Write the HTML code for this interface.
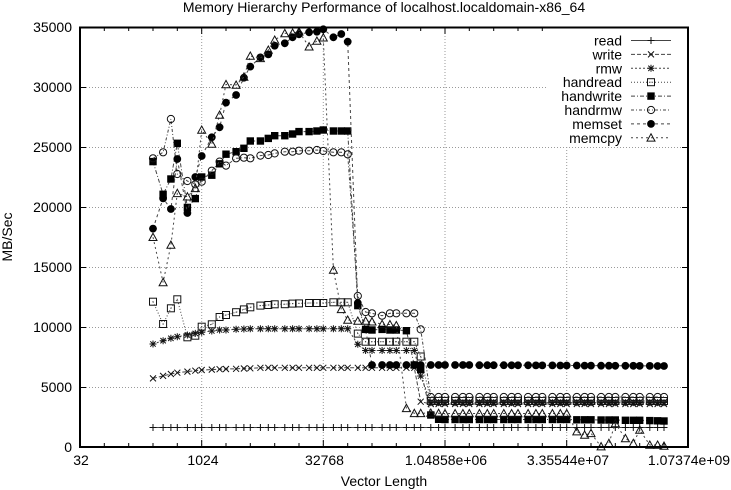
<!DOCTYPE html>
<html><head><meta charset="utf-8"><style>
html,body{margin:0;padding:0;background:#fff;}
svg{display:block;}
text{font-family:"Liberation Sans",Arial,sans-serif;font-size:14px;fill:#000;}
.l{fill:none;stroke:#444;stroke-width:1;}
</style></head><body>
<svg width="731" height="490" viewBox="0 0 731 490" xmlns="http://www.w3.org/2000/svg">
<defs>
<marker id="mp" markerUnits="userSpaceOnUse" markerWidth="12" markerHeight="12" refX="6" refY="6"><path d="M2.5,6H9.5M6,2.5V9.5" stroke="#111" stroke-width="1" fill="none"/></marker>
<marker id="mx" markerUnits="userSpaceOnUse" markerWidth="12" markerHeight="12" refX="6" refY="6"><path d="M3,3L9,9M3,9L9,3" stroke="#111" stroke-width="1" fill="none"/></marker>
<marker id="ms" markerUnits="userSpaceOnUse" markerWidth="12" markerHeight="12" refX="6" refY="6"><path d="M2.5,6H9.5M6,2.5V9.5M3.3,3.3L8.7,8.7M3.3,8.7L8.7,3.3" stroke="#111" stroke-width="1" fill="none"/></marker>
<marker id="mb" markerUnits="userSpaceOnUse" markerWidth="12" markerHeight="12" refX="6" refY="6"><rect x="2.5" y="2.5" width="7" height="7" fill="none" stroke="#111" stroke-width="1"/><rect x="5.5" y="5.5" width="1" height="1" fill="#333"/></marker>
<marker id="mB" markerUnits="userSpaceOnUse" markerWidth="12" markerHeight="12" refX="6" refY="6"><rect x="2.3" y="2.3" width="7.4" height="7.4" fill="#000"/></marker>
<marker id="mo" markerUnits="userSpaceOnUse" markerWidth="12" markerHeight="12" refX="6" refY="6"><circle cx="6" cy="6" r="3.6" fill="none" stroke="#111" stroke-width="1"/></marker>
<marker id="mO" markerUnits="userSpaceOnUse" markerWidth="12" markerHeight="12" refX="6" refY="6"><circle cx="6" cy="6" r="3.9" fill="#000"/></marker>
<marker id="mt" markerUnits="userSpaceOnUse" markerWidth="12" markerHeight="12" refX="6" refY="6"><path d="M6,2L10,9.3H2Z" fill="none" stroke="#111" stroke-width="1"/></marker>
</defs>

<!-- title -->
<text x="384" y="12" text-anchor="middle">Memory Hierarchy Performance of localhost.localdomain-x86_64</text>

<!-- grid -->
<g stroke="#9a9a9a" stroke-width="1" stroke-dasharray="1,2" fill="none">
<path d="M80,87.5H688M80,147.5H688M80,207.5H688M80,267.5H688M80,327.5H688M80,387.5H688"/>
<path d="M201.7,27V447M323.3,27V447M445,27V447M566.7,27V447"/>
</g>

<!-- ticks -->
<g stroke="#000" stroke-width="1" fill="none">
<path d="M201.7,447V440M323.3,447V440M445,447V440M566.7,447V440M201.7,27V34M323.3,27V34M445,27V34M566.7,27V34"/>
<path d="M104.3,447V443M128.7,447V443M153,447V443M177.3,447V443M226,447V443M250.3,447V443M274.7,447V443M299,447V443M347.7,447V443M372,447V443M396.3,447V443M420.7,447V443M469.3,447V443M493.7,447V443M518,447V443M542.3,447V443M591,447V443M615.3,447V443M639.7,447V443M664,447V443"/>
<path d="M104.3,27V31M128.7,27V31M153,27V31M177.3,27V31M226,27V31M250.3,27V31M274.7,27V31M299,27V31M347.7,27V31M372,27V31M396.3,27V31M420.7,27V31M469.3,27V31M493.7,27V31M518,27V31M542.3,27V31M591,27V31M615.3,27V31M639.7,27V31M664,27V31"/>
<path d="M80,87.5H86M80,147.5H86M80,207.5H86M80,267.5H86M80,327.5H86M80,387.5H86M688,87.5H682M688,147.5H682M688,207.5H682M688,267.5H682M688,327.5H682M688,387.5H682"/>
</g>

<!-- tick labels -->
<g text-anchor="end">
<text x="72" y="452">0</text>
<text x="72" y="392">5000</text>
<text x="72" y="332">10000</text>
<text x="72" y="272">15000</text>
<text x="72" y="212">20000</text>
<text x="72" y="152">25000</text>
<text x="72" y="92">30000</text>
<text x="72" y="32">35000</text>
</g>
<g text-anchor="middle">
<text x="81" y="465">32</text>
<text x="203" y="465">1024</text>
<text x="324.5" y="465">32768</text>
<text x="446" y="465">1.04858e+06</text>
<text x="568" y="465">3.35544e+07</text>
<text x="689" y="465">1.07374e+09</text>
<text x="384" y="486">Vector Length</text>
<text transform="translate(12,237) rotate(-90)">MB/Sec</text>
</g>

<!-- series -->
<polyline class="l" marker-start="url(#mp)" marker-mid="url(#mp)" marker-end="url(#mp)" points="153,427.5 163.1,427.5 170.9,427.5 177.3,427.5 187.4,427.5 195.3,427.5 201.7,427.5 211.8,427.5 219.6,427.5 226,427.5 236.1,427.5 243.9,427.5 250.3,427.5 260.4,427.5 268.3,427.5 274.7,427.5 284.8,427.5 292.6,427.5 299,427.5 309.1,427.5 316.9,427.5 323.3,427.5 333.4,427.5 341.3,427.5 347.7,427.5 357.8,427.5 365.6,427.5 372,427.5 382.1,427.5 389.9,427.5 396.3,427.5 406.4,427.5 414.3,427.5 420.7,427.5 430.8,427.5 438.6,427.5 445,427.5 455.1,427.5 462.9,427.5 469.3,427.5 479.4,427.5 487.3,427.5 493.7,427.5 503.8,427.5 511.6,427.5 518,427.5 528.1,427.5 535.9,427.5 542.3,427.5 552.4,427.5 560.3,427.5 566.7,427.5 576.8,427.5 584.6,427.5 591,427.5 601.1,427.5 608.9,427.5 615.3,427.5 625.4,427.5 633.3,427.5 639.7,427.5 649.8,427.5 657.6,427.5 664,427.5"/>

<polyline class="l" stroke-dasharray="4,2" marker-start="url(#mx)" marker-mid="url(#mx)" marker-end="url(#mx)" points="153,378.4 163.1,375.9 170.9,374 177.3,372.7 187.4,371.6 195.3,370.7 201.7,370 211.8,369.6 219.6,369.2 226,369 236.1,368.8 243.9,368.5 250.3,368.3 260.4,367.8 268.3,367.8 274.7,367.8 284.8,367.8 292.6,367.8 299,367.8 309.1,367.8 316.9,367.8 323.3,367.8 333.4,367.8 341.3,367.8 347.7,367.8 357.8,367.8 365.6,367.8 372,367.8 382.1,367.8 389.9,367.8 396.3,367.8 406.4,367.8 414.3,367.8 420.7,401.7 430.8,404 438.6,404 445,404 455.1,404 462.9,404 469.3,404 479.4,404 487.3,404 493.7,404 503.8,404 511.6,404 518,404 528.1,404 535.9,404 542.3,404 552.4,404 560.3,404 566.7,404 576.8,404 584.6,404 591,404 601.1,404 608.9,404 615.3,404 625.4,404 633.3,404 639.7,404 649.8,404 657.6,404 664,404"/>

<polyline class="l" stroke-dasharray="2,2" marker-start="url(#ms)" marker-mid="url(#ms)" marker-end="url(#ms)" points="153,344 163.1,340.7 170.9,338.3 177.3,336.7 187.4,335 195.3,333.4 201.7,332.3 211.8,331 219.6,330 226,330 236.1,329.3 243.9,329 250.3,328.8 260.4,328.8 268.3,328.8 274.7,328.8 284.8,328.8 292.6,328.8 299,328.8 309.1,328.8 316.9,328.8 323.3,328.8 333.4,328.8 341.3,328.8 347.7,328.8 357.8,344.3 365.6,350.5 372,350.5 382.1,350.5 389.9,350.5 396.3,350.5 406.4,350.5 414.3,350.5 420.7,376 430.8,402.6 438.6,402.6 445,402.6 455.1,402.6 462.9,402.6 469.3,402.6 479.4,402.6 487.3,402.6 493.7,402.6 503.8,402.6 511.6,402.6 518,402.6 528.1,402.6 535.9,402.6 542.3,402.6 552.4,402.6 560.3,402.6 566.7,402.6 576.8,402.6 584.6,402.6 591,402.6 601.1,402.6 608.9,402.6 615.3,402.6 625.4,402.6 633.3,402.6 639.7,402.6 649.8,402.6 657.6,402.6 664,402.6"/>

<polyline class="l" stroke-dasharray="1,2" marker-start="url(#mb)" marker-mid="url(#mb)" marker-end="url(#mb)" points="153,301.7 163.1,324 170.9,308.3 177.3,299.3 187.4,337.3 195.3,335.7 201.7,326.7 211.8,324.3 219.6,317 226,315 236.1,312.2 243.9,309.4 250.3,307.3 260.4,305.6 268.3,305 274.7,304.3 284.8,304.2 292.6,303.6 299,303.4 309.1,303 316.9,303 323.3,303 333.4,302.3 341.3,302.3 347.7,302.3 357.8,333.6 365.6,341.7 372,341.7 382.1,341.7 389.9,341.7 396.3,341.7 406.4,341.7 414.3,341.7 420.7,356.5 430.8,401 438.6,401 445,401 455.1,401 462.9,401 469.3,401 479.4,401 487.3,401 493.7,401 503.8,401 511.6,401 518,401 528.1,401 535.9,401 542.3,401 552.4,401 560.3,401 566.7,401 576.8,401 584.6,401 591,401 601.1,401 608.9,401 615.3,401 625.4,401 633.3,401 639.7,401 649.8,401 657.6,401 664,401"/>

<polyline class="l" stroke-dasharray="4,2,1,2" marker-start="url(#mB)" marker-mid="url(#mB)" marker-end="url(#mB)" points="153,161.6 163.1,194.3 170.9,179 177.3,143.3 187.4,207.4 195.3,198.6 201.7,177 211.8,175.2 219.6,163.8 226,154.2 236.1,151.7 243.9,148.3 250.3,141 260.4,141 268.3,138.4 274.7,135.7 284.8,135.7 292.6,134 299,131.6 309.1,131.6 316.9,131 323.3,130 333.4,131 341.3,131 347.7,131 357.8,305.6 365.6,329.4 372,330 382.1,329.4 389.9,330 396.3,330 406.4,330.7 414.3,365 420.7,369.6 430.8,415 438.6,419.3 445,419.5 455.1,419.5 462.9,419.5 469.3,419.5 479.4,419.5 487.3,419.5 493.7,419.5 503.8,419.5 511.6,419.5 518,419.5 528.1,419.5 535.9,419.5 542.3,419.5 552.4,419.5 560.3,419.5 566.7,419.5 576.8,419.8 584.6,419.8 591,419.8 601.1,420 608.9,420 615.3,420 625.4,420.3 633.3,420.3 639.7,420.3 649.8,420.6 657.6,420.8 664,421"/>

<polyline class="l" stroke-dasharray="3,2,1,2" marker-start="url(#mo)" marker-mid="url(#mo)" marker-end="url(#mo)" points="153,158.3 163.1,152.3 170.9,119 177.3,174 187.4,181 195.3,184.3 201.7,181.7 211.8,170.7 219.6,161.6 226,165.6 236.1,158.3 243.9,157.7 250.3,158.3 260.4,155.6 268.3,155 274.7,153.4 284.8,151.7 292.6,151.7 299,150.7 309.1,150.7 316.9,150 323.3,151 333.4,152.3 341.3,152.3 347.7,154.3 357.8,296 365.6,312 372,313.3 382.1,315.7 389.9,313.3 396.3,313.3 406.4,313.3 414.3,313.3 420.7,329.4 430.8,397 438.6,397 445,397 455.1,397 462.9,397 469.3,397 479.4,397 487.3,397 493.7,397 503.8,397 511.6,397 518,397 528.1,397 535.9,397 542.3,397 552.4,397 560.3,397 566.7,397 576.8,397 584.6,397 591,397 601.1,397 608.9,397 615.3,397 625.4,397 633.3,397 639.7,397 649.8,397 657.6,397 664,397"/>

<polyline class="l" stroke-dasharray="3,3" marker-start="url(#mO)" marker-mid="url(#mO)" marker-end="url(#mO)" points="153,228.6 163.1,198.4 170.9,209 177.3,159 187.4,213 195.3,177 201.7,156 211.8,137.3 219.6,127.3 226,102.6 236.1,95 243.9,77.7 250.3,66.6 260.4,57.4 268.3,54.4 274.7,45.7 284.8,43.3 292.6,37.3 299,34.3 309.1,32.3 316.9,31.7 323.3,29.3 333.4,37.3 341.3,34 347.7,41.7 357.8,303 365.6,329.4 372,365 382.1,365 389.9,365 396.3,365 406.4,365 414.3,365 420.7,365 430.8,365 438.6,365 445,365 455.1,365 462.9,365 469.3,365 479.4,365.2 487.3,365.2 493.7,365.2 503.8,365.2 511.6,365.3 518,365.3 528.1,365.3 535.9,365.4 542.3,365.4 552.4,365.4 560.3,365.5 566.7,365.5 576.8,365.5 584.6,365.6 591,365.6 601.1,365.7 608.9,365.7 615.3,365.8 625.4,365.8 633.3,365.8 639.7,365.9 649.8,365.9 657.6,366 664,366"/>

<polyline class="l" stroke-dasharray="2,3" marker-start="url(#mt)" marker-mid="url(#mt)" marker-end="url(#mt)" points="153,237.2 163.1,282.4 170.9,245 177.3,193.3 187.4,196.7 195.3,188.3 201.7,130 211.8,144 219.6,115 226,84.4 236.1,85 243.9,77 250.3,56 260.4,58.3 268.3,50 274.7,40 284.8,33.4 292.6,33 299,31.7 309.1,46.7 316.9,41 323.3,37.7 333.4,270 341.3,309.3 347.7,320 357.8,321 365.6,321 372,321.7 382.1,324.3 389.9,324.5 396.3,325.5 406.4,408.3 414.3,413.3 420.7,413.3 430.8,413 438.6,413.3 445,413.5 455.1,413.5 462.9,413.5 469.3,413.5 479.4,413.5 487.3,413.5 493.7,413.5 503.8,413.5 511.6,413.5 518,413.5 528.1,413.5 535.9,413.5 542.3,413.5 552.4,413.5 560.3,413.5 566.7,413.5 576.8,431.6 584.6,435 591,433.3 601.1,446.6 608.9,443.3 615.3,423.4 625.4,438.4 633.3,443.3 639.7,430 649.8,445 657.6,445 664,446"/>

<!-- legend -->
<rect x="546" y="28" width="141" height="117" fill="#fff"/>
<g text-anchor="end">
<text x="622" y="45.5">read</text>
<text x="622" y="59.4">write</text>
<text x="622" y="73.3">rmw</text>
<text x="622" y="87.2">handread</text>
<text x="622" y="101.1">handwrite</text>
<text x="622" y="115">handrmw</text>
<text x="622" y="128.9">memset</text>
<text x="622" y="142.8">memcpy</text>
</g>
<polyline class="l" marker-mid="url(#mp)" points="631,40.5 651,40.5 671,40.5"/>
<polyline class="l" stroke-dasharray="4,2" marker-mid="url(#mx)" points="631,54.4 651,54.4 671,54.4"/>
<polyline class="l" stroke-dasharray="2,2" marker-mid="url(#ms)" points="631,68.3 651,68.3 671,68.3"/>
<polyline class="l" stroke-dasharray="1,2" marker-mid="url(#mb)" points="631,82.2 651,82.2 671,82.2"/>
<polyline class="l" stroke-dasharray="4,2,1,2" marker-mid="url(#mB)" points="631,96.1 651,96.1 671,96.1"/>
<polyline class="l" stroke-dasharray="3,2,1,2" marker-mid="url(#mo)" points="631,110 651,110 671,110"/>
<polyline class="l" stroke-dasharray="3,3" marker-mid="url(#mO)" points="631,123.9 651,123.9 671,123.9"/>
<polyline class="l" stroke-dasharray="2,3" marker-mid="url(#mt)" points="631,137.8 651,137.8 671,137.8"/>

<!-- frame -->
<rect x="80" y="27.5" width="608" height="419.5" fill="none" stroke="#000" stroke-width="2"/>
</svg>
</body></html>
